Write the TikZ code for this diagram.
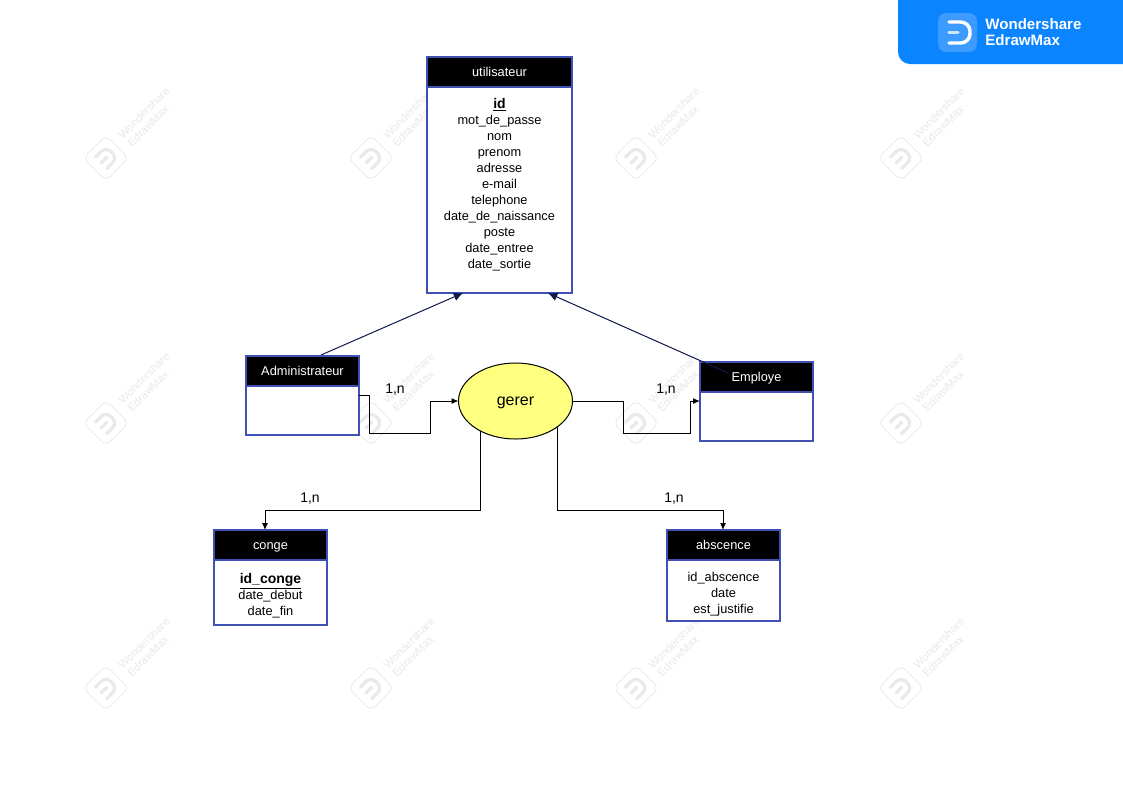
\documentclass[tikz,border=0pt]{standalone}
\usepackage{fontspec}
\setmainfont{Liberation Sans}
\usetikzlibrary{positioning,shapes.geometric,arrows.meta}
\definecolor{boxblue}{HTML}{3F51B5}
\definecolor{navy}{HTML}{111A4D}
\definecolor{gererfill}{HTML}{FFFF80}
\definecolor{badgeblue}{HTML}{0A84FF}
\definecolor{logoblue}{HTML}{3D9BFF}
\definecolor{wmgray}{HTML}{E9E9E9}
\def\px{0.75pt}

\begin{document}
\begin{tikzpicture}[x=0.75pt, y=-0.75pt, semithick]
  \tikzstyle{head}=[draw=boxblue, fill=black, text=white, line width=1.1pt, inner sep=0pt, outer sep=0pt, minimum width=113*\px, minimum height=30*\px, text height=9pt, text depth=2pt, font=\fontsize{9.6pt}{12pt}\selectfont]
  \tikzstyle{body}=[draw=boxblue, fill=white, line width=1.1pt, inner sep=0pt, outer sep=0pt, minimum width=113*\px]
  \tikzstyle{attrs}=[align=center, inner sep=0pt, font=\fontsize{9.6pt}{12pt}\selectfont]
  \tikzstyle{card}=[inner sep=0pt, font=\fontsize{10.5pt}{12pt}\selectfont]
  \tikzstyle{link}=[-{Latex[length=5.25pt,width=4.5pt]}, black, line width=0.75pt]
  \tikzstyle{isa}=[-{Latex[length=7pt,width=6.5pt]}, navy, line width=0.75pt]
  \tikzstyle{wmtext}=[text=wmgray, inner sep=0pt, rotate=45, font=\fontsize{8.4pt}{10pt}\selectfont]

  \useasboundingbox (0,0) rectangle (1123,794);
  \fill[white] (0,0) rectangle (1123,794);

  % watermark grid
  \foreach \wx in {106,371,636,901}
    \foreach \wy in {158,423,688} {
      \begin{scope}[shift={(\wx,\wy)}]
        \draw[wmgray, line width=0.6pt, rounded corners=4.5pt, rotate=45] (-16,-16) rectangle (16,16);
        \draw[wmgray, line width=2.4pt, line cap=round, rounded corners=5pt, rotate=45] (-7,-8) -- (8,-8) -- (8,8) -- (-7,8);
        \draw[wmgray, line width=2.4pt, line cap=round, rotate=45] (-7,0) -- (1,0);
      \end{scope}
      \node[wmtext] (wmA\wx\wy) at (\wx+38,\wy-45) {Wondershare};
      \node[wmtext] (wmB\wx\wy) at (\wx+42,\wy-32) {EdrawMax};
    }

  % badge
  \fill[badgeblue] (1123,0) -- (898,0) [rounded corners=9pt] -- (898,64) [sharp corners] -- (1123,64) -- cycle;
  \fill[logoblue, rounded corners=6pt] (938,13) rectangle (977,52);
  \draw[white, line width=2.6pt, line cap=round, rounded corners=7pt] (949,22) -- (970,22) -- (970,43) -- (949,43);
  \draw[white!75!logoblue, line width=2.6pt, line cap=round] (949,32.5) -- (958,32.5);
  \node[text=white, anchor=west, inner sep=0pt, align=left, font=\fontsize{11.3pt}{12pt}\selectfont\bfseries] (brand) at (985,32) {Wondershare\\EdrawMax};

  % entities
  \node[head, minimum width=145*\px]           (user)     at (499.5,72)  {utilisateur};
  \node[body, minimum width=145*\px, minimum height=206*\px] (userBody) [below=0pt of user] {};
  \node[attrs]                                 (userList) [below=15.5pt of user] {\fontsize{10.5pt}{12pt}\selectfont\bfseries\smash{\underline{id}}\\mot\_de\_passe\\nom\\prenom\\adresse\\e-mail\\telephone\\date\_de\_naissance\\poste\\date\_entree\\date\_sortie};

  \node[head]                                  (admin)     at (302.5,371) {Administrateur};
  \node[body, minimum height=49*\px]           (adminBody) [below=0pt of admin] {};

  \node[head]                                  (emp)     at (756.5,377) {Employe};
  \node[body, minimum height=49*\px]           (empBody) [below=0pt of emp] {};

  \node[head]                                  (conge)     at (270.5,545) {conge};
  \node[body, minimum height=65*\px]           (congeBody) [below=0pt of conge] {};
  \node[attrs]                                 (congeList) [below=17.5pt of conge] {\fontsize{10.5pt}{12pt}\selectfont\bfseries\smash{\underline{id\_conge}}\\date\_debut\\date\_fin};

  \node[head]                                  (absc)     at (723.5,545) {abscence};
  \node[body, minimum height=61*\px]           (abscBody) [below=0pt of absc] {};
  \node[attrs]                                 (abscList) [below=8.75pt of absc] {id\_abscence\\date\\est\_justifie};

  \node[ellipse, draw=black, fill=gererfill, line width=0.75pt, inner sep=0pt, outer sep=0pt, minimum width=114*\px, minimum height=76*\px, text height=6pt, text depth=0pt, font=\fontsize{12pt}{14pt}\selectfont] (gerer) at (515.5,401) {gerer};

  % connector ends
  \coordinate (userL)   at (463,293);
  \coordinate (userR)   at (548,293);
  \coordinate (adminUp) at (321,355);
  \coordinate (empUp)   at (728,373);
  \coordinate (adminOut) at (359,395);
  \coordinate (empIn)   at (empBody.west |- gerer.east);
  \coordinate (congeIn) at (265,530);
  \coordinate (abscIn)  at (723,530);

  \draw[isa] (adminUp) -- (userL);
  \draw[isa] (empUp) -- (userR);
  \draw[link] (adminOut) -- ++(10,0) |- (430,433) |- (gerer.west);
  \draw[link] (gerer.east) -- ++(51,0) |- (690,433) |- (empIn);
  \draw[link] (gerer.220) |- (265,510) -- (congeIn);
  \draw[link] (gerer.328) |- (723,510) -- (abscIn);

  \node[card] (cardA) at (395,389.5) {1,n};
  \node[card] (cardB) at (666,389.5) {1,n};
  \node[card] (cardC) at (310,498.5) {1,n};
  \node[card] (cardD) at (674,498.5) {1,n};
\end{tikzpicture}
\end{document}
